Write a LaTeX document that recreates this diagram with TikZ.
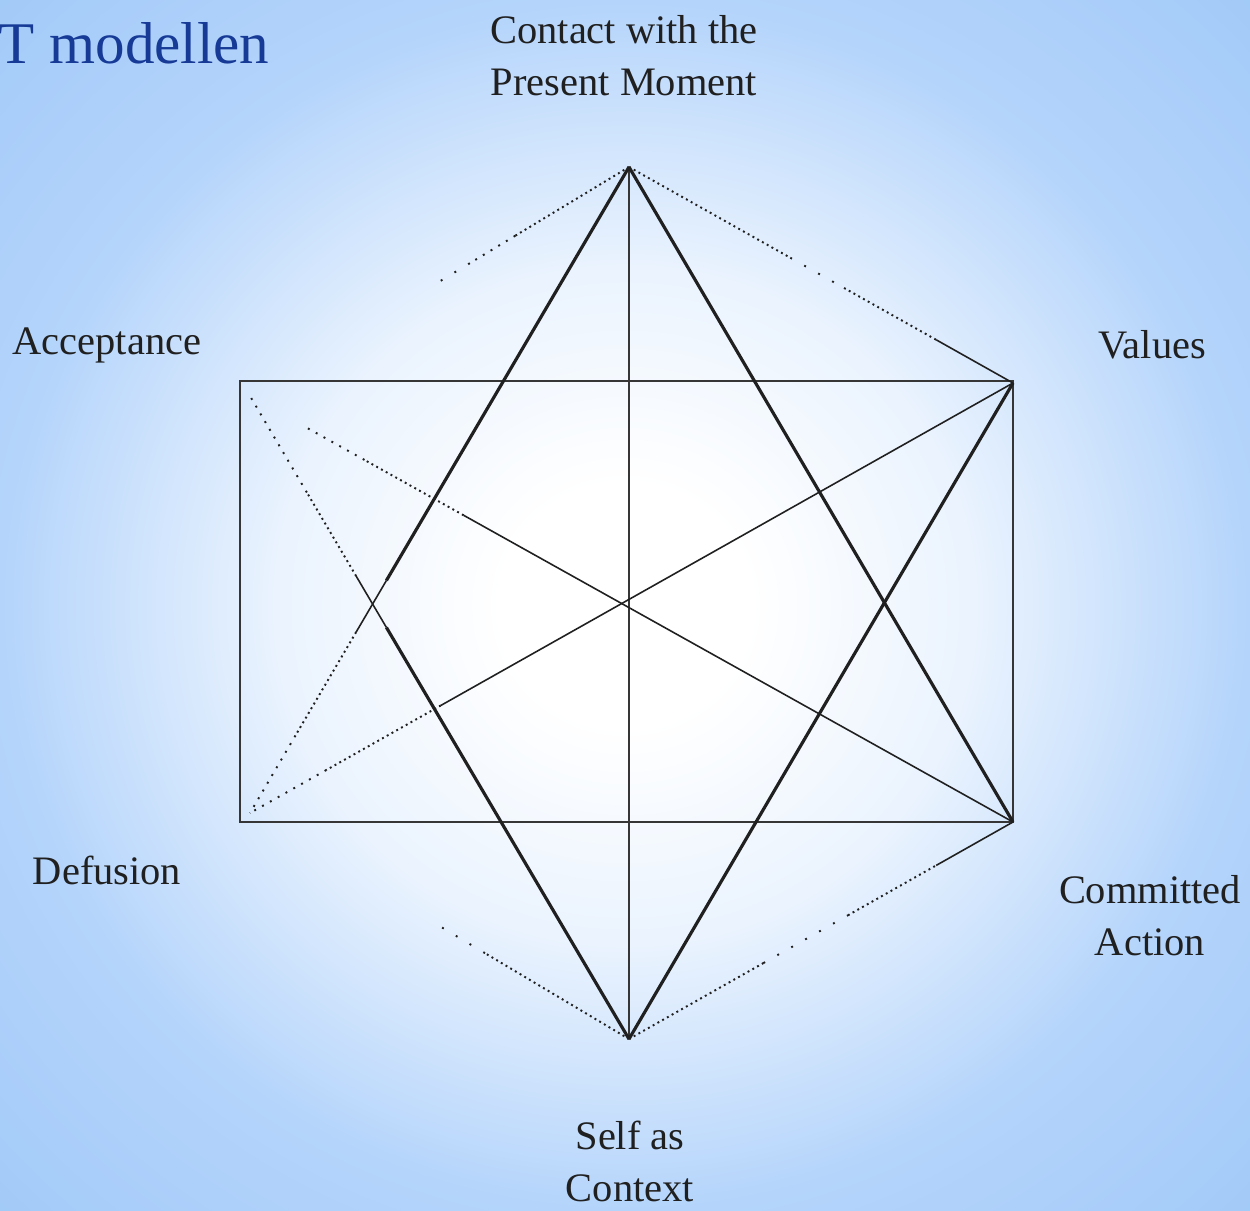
\documentclass[tikz,border=0pt]{standalone}
\usepackage{fontspec}
\setmainfont{Liberation Serif}
\usetikzlibrary{calc}

\definecolor{skymid}{RGB}{234,243,254}
\definecolor{skyedge}{RGB}{180,212,251}
\definecolor{skycorner}{RGB}{162,202,248}
\definecolor{titleblue}{RGB}{22,58,150}
\definecolor{ink}{RGB}{32,32,32}

% soft glow behind the hexagram
\pgfdeclareradialshading{bgglow}{\pgfpoint{0bp}{0bp}}{%
  color(0bp)=(white); color(5bp)=(white); color(14bp)=(skymid);
  color(25bp)=(skyedge); color(36bp)=(skycorner); color(50bp)=(skycorner)}

\tikzset{
  heavy/.style={line width=0.9pt,draw=ink},
  frame/.style={line width=0.6pt,draw=ink!90},
  fine/.style={line width=0.45pt,draw=ink},
  finedense/.style={line width=0.55pt,draw=ink,densely dotted},
  finedot/.style={line width=0.55pt,draw=ink,dotted},
  finesparse/.style={line width=0.55pt,draw=ink,loosely dotted},
  lbl/.style={text=ink,align=center,inner sep=0pt,font={\fontsize{11.5pt}{14.8pt}\selectfont}}
}

\begin{document}
\begin{tikzpicture}[x=0.01cm,y=-0.01cm]
    % background
    \useasboundingbox (0,0) rectangle (1250,1211);
    \shade[shading=bgglow] (0,0) rectangle (1250,1211);

    % hexagon corners
    \coordinate (T) at (629,167);
    \coordinate (V) at (1013,383);
    \coordinate (C) at (1013,822);
    \coordinate (S) at (629,1039);
    \coordinate (D) at (250,813);
    \coordinate (A) at (250,396);

    % frame and axis
    \draw[frame] (240,381) rectangle (1013,822);
    \draw[frame] (T) -- (S);

    % full strokes
    \draw[heavy] (T) -- (C);
    \draw[heavy] (S) -- (V);

    % strokes that fade out towards the far end
    \foreach \p/\q/\s/\e/\sty in {
        T/D/0/0.64/heavy, T/D/0.64/0.72/fine, T/D/0.72/0.88/finedense, T/D/0.88/1/finedot,
        S/A/0/0.64/heavy, S/A/0.64/0.72/fine, S/A/0.72/0.85/finedense, S/A/0.85/1/finedot,
        C/A/0/0.72/fine, C/A/0.72/0.85/finedense, C/A/0.85/0.93/finedot,
        V/D/0/0.75/fine, V/D/0.75/0.9/finedense, V/D/0.9/1/finedot,
        T/A/0/0.3/finedense, T/A/0.3/0.42/finedot, T/A/0.42/0.5/finesparse,
        T/V/0/0.42/finedense, T/V/0.42/0.56/finesparse, T/V/0.56/0.8/finedense, T/V/0.8/1/fine,
        S/D/0/0.38/finedense, S/D/0.38/0.5/finesparse,
        S/C/0/0.35/finedense, S/C/0.35/0.57/finesparse, S/C/0.57/0.8/finedense, S/C/0.8/1/fine} {
        \draw[\sty] ($(\p)!\s!(\q)$) -- ($(\p)!\e!(\q)$);
    }

    % labels
    \node[anchor=base west,inner sep=0pt,text=titleblue,
          font={\fontsize{16.8pt}{20pt}\selectfont}] (title) at (-2,63) {T modellen};
    \node[lbl] (contact) at (624,56) {Contact with the\\Present Moment};
    \node[lbl] (accept) at (107,345) {Acceptance};
    \node[lbl] (values) at (1152,345) {Values};
    \node[lbl] (defus) at (107,870) {Defusion};
    \node[lbl] (commit) at (1150,916) {Committed\\Action};
    \node[lbl] (self) at (630,1161) {Self as\\Context};
\end{tikzpicture}
\end{document}
